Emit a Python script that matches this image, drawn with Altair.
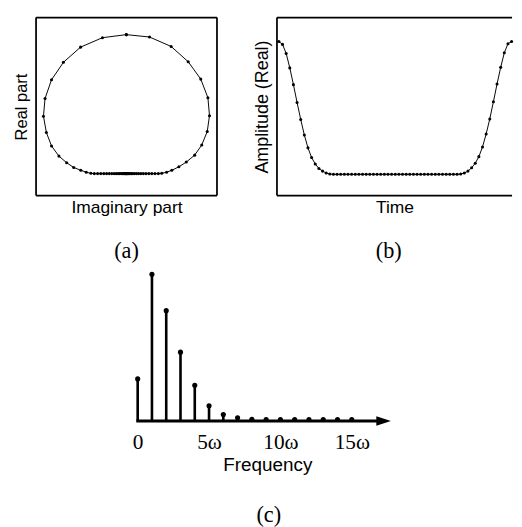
import altair as alt
import pandas as pd

# ---- Signal samples (t = 0..64, one full period, last point closes the loop)
time_idx = list(range(65))
real_part = [1.0, 0.978, 0.910, 0.801, 0.675, 0.541, 0.413, 0.296, 0.199, 0.126,
             0.078, 0.044, 0.024, 0.010, 0.002,
             0.0, 0.0, 0.0, 0.0, 0.0, 0.0, 0.0, 0.0, 0.0, 0.0,
             0.0, 0.0, 0.0, 0.0, 0.0, 0.0, 0.0, 0.0, 0.0, 0.0,
             0.0, 0.0, 0.0, 0.0, 0.0, 0.0, 0.0, 0.0, 0.0, 0.0,
             0.0, 0.0, 0.0, 0.0, 0.0,
             0.002, 0.010, 0.024, 0.049, 0.083, 0.133, 0.206, 0.303, 0.417, 0.546,
             0.680, 0.805, 0.915, 0.983, 1.0]
imag_part = [0.0, -0.287, -0.550, -0.756, -0.899, -0.977, -0.996, -0.961, -0.899, -0.810,
             -0.717, -0.632, -0.547, -0.481, -0.426,
             -0.385, -0.345, -0.307, -0.271, -0.237, -0.205, -0.175, -0.147, -0.122, -0.099,
             -0.079, -0.061, -0.045, -0.032, -0.021, -0.012, -0.005, 0.0,
             0.005, 0.012, 0.021, 0.032, 0.045, 0.061, 0.079, 0.099, 0.122, 0.147,
             0.175, 0.205, 0.237, 0.271, 0.307, 0.345, 0.385,
             0.426, 0.484, 0.547, 0.632, 0.721, 0.822, 0.907, 0.973, 1.0, 0.981,
             0.895, 0.744, 0.539, 0.279, 0.0]

# ---- Spectrum (harmonics 0..15)
harmonic = list(range(16))
magnitude = [0.287, 1.0, 0.752, 0.469, 0.243, 0.104, 0.044, 0.022, 0.012, 0.010,
             0.010, 0.010, 0.010, 0.010, 0.010, 0.010]
tick_values = [0, 5, 10, 15]
axis_start = [-0.1]
axis_end = [17.0]
arrow_pos = [17.23]

sig = pd.DataFrame({"t": time_idx, "re": real_part, "im": imag_part})
spec = pd.DataFrame({"k": harmonic, "m": magnitude})

SANS = "Liberation Sans"
SERIF = "Liberation Serif"


def blank_axis(title, pad, size):
    return alt.Axis(title=title, labels=False, ticks=False, domain=False, grid=False,
                    titlePadding=pad, titleFont=SANS, titleFontSize=size,
                    titleFontWeight="normal", titleColor="black")


def frame_rules(xs, ys, xdom, ydom, sides):
    fr = pd.DataFrame({"x0": [xdom[0]], "x1": [xdom[1]], "y0": [ydom[0]], "y1": [ydom[1]]})
    out = []
    base = alt.Chart(fr).mark_rule(color="black", strokeWidth=1.8)
    if "left" in sides:
        out.append(base.encode(x=alt.X("x0:Q", scale=xs), y=alt.Y("y0:Q", scale=ys), y2="y1:Q"))
    if "right" in sides:
        out.append(base.encode(x=alt.X("x1:Q", scale=xs), y=alt.Y("y0:Q", scale=ys), y2="y1:Q"))
    if "top" in sides:
        out.append(base.encode(x=alt.X("x0:Q", scale=xs), x2="x1:Q", y=alt.Y("y1:Q", scale=ys)))
    if "bottom" in sides:
        out.append(base.encode(x=alt.X("x0:Q", scale=xs), x2="x1:Q", y=alt.Y("y0:Q", scale=ys)))
    return out


LABEL_FONT = 23

# ---- Panel (a)
XA_DOM = [-1.085, 1.09]
YA_DOM = [-0.158, 1.123]
xa_scale = alt.Scale(domain=XA_DOM, nice=False, zero=False)
ya_scale = alt.Scale(domain=YA_DOM, nice=False, zero=False)
xa = alt.X("im:Q", scale=xa_scale, axis=blank_axis("Imaginary part", 4, 18))
ya = alt.Y("re:Q", scale=ya_scale, axis=blank_axis("Real part", 6, 17))
a_line = alt.Chart(sig).mark_line(color="black", strokeWidth=1).encode(x=xa, y=ya, order="t:Q")
a_pts = alt.Chart(sig).mark_circle(color="black", size=10, opacity=1).encode(x="im:Q", y="re:Q")
panel_a = alt.layer(a_line, a_pts, *frame_rules(xa_scale, ya_scale, XA_DOM, YA_DOM,
                                                 ["left", "right", "top", "bottom"])).properties(
    width=187, height=184,
    title=alt.TitleParams("(a)", orient="bottom", font=SERIF, fontSize=LABEL_FONT,
                          fontWeight="normal", color="black", offset=25),
)

# ---- Panel (b)
XB_DOM = [-0.53, 64.13]
YB_DOM = [-0.16, 1.18]
xb_scale = alt.Scale(domain=XB_DOM, nice=False, zero=False)
yb_scale = alt.Scale(domain=YB_DOM, nice=False, zero=False)
xb = alt.X("t:Q", scale=xb_scale, axis=blank_axis("Time", 4, 18))
yb = alt.Y("re:Q", scale=yb_scale, axis=blank_axis("Amplitude (Real)", 6, 18.5))
b_line = alt.Chart(sig).mark_line(color="black", strokeWidth=1).encode(x=xb, y=yb)
b_pts = alt.Chart(sig).mark_circle(color="black", size=10, opacity=1).encode(x="t:Q", y="re:Q")
panel_b = alt.layer(b_line, b_pts, *frame_rules(xb_scale, yb_scale, XB_DOM, YB_DOM,
                                                 ["left", "top", "bottom"])).properties(
    width=243, height=184,
    title=alt.TitleParams("(b)", orient="bottom", font=SERIF, fontSize=LABEL_FONT,
                          fontWeight="normal", color="black", offset=25, dx=-6),
)

# ---- Panel (c)
xc_scale = alt.Scale(domain=[-7.12, 18.3], nice=False, zero=False)
yc_scale = alt.Scale(domain=[0, 1.055], nice=False, zero=False)
xc = alt.X("k:Q", scale=xc_scale,
           axis=alt.Axis(title="Frequency", values=tick_values,
                         labelExpr="datum.value == 0 ? '0' : datum.value + 'ω'",
                         labels=True, ticks=False, domain=False, grid=False,
                         labelFont=SERIF, labelFontSize=22, labelColor="black",
                         labelPadding=11, labelFlush=False,
                         titleFont=SANS, titleFontSize=19.5, titleFontWeight="normal",
                         titleColor="black", titlePadding=4, titleX=239))
stems = alt.Chart(spec).mark_rule(color="black", strokeWidth=2.7).encode(
    x=xc, y=alt.Y("m:Q", scale=yc_scale, axis=None), y2=alt.datum(0))
heads = alt.Chart(spec).mark_circle(color="black", size=28, opacity=1).encode(
    x=alt.X("k:Q", scale=xc_scale), y=alt.Y("m:Q", scale=yc_scale))
axis_df = pd.DataFrame({"x0": axis_start, "x1": axis_end, "y0": [0.0]})
base_line = alt.Chart(axis_df).mark_rule(color="black", strokeWidth=3).encode(
    x=alt.X("x0:Q", scale=xc_scale), x2="x1:Q", y=alt.Y("y0:Q", scale=yc_scale))
arrow_df = pd.DataFrame({"x": arrow_pos, "y": [0.0]})
arrow = alt.Chart(arrow_df).mark_point(
    shape="M-1,-0.67L1,0L-1,0.67Z", size=225, filled=True, color="black", opacity=1
).encode(x=alt.X("x:Q", scale=xc_scale), y=alt.Y("y:Q", scale=yc_scale))
panel_c = alt.layer(stems, base_line, heads, arrow).properties(
    width=375, height=160,
    title=alt.TitleParams("(c)", orient="bottom", font=SERIF, fontSize=LABEL_FONT,
                          fontWeight="normal", color="black", offset=32, dx=53),
)

top = alt.hconcat(panel_a, panel_b, spacing=36)
chart = alt.vconcat(top, panel_c, spacing=3).properties(
    padding={"left": 5, "top": 0, "right": 0, "bottom": 0}
).configure(background="white").configure_view(stroke=None)

chart.save("out.html", embed_options={"renderer": "svg", "actions": False})
